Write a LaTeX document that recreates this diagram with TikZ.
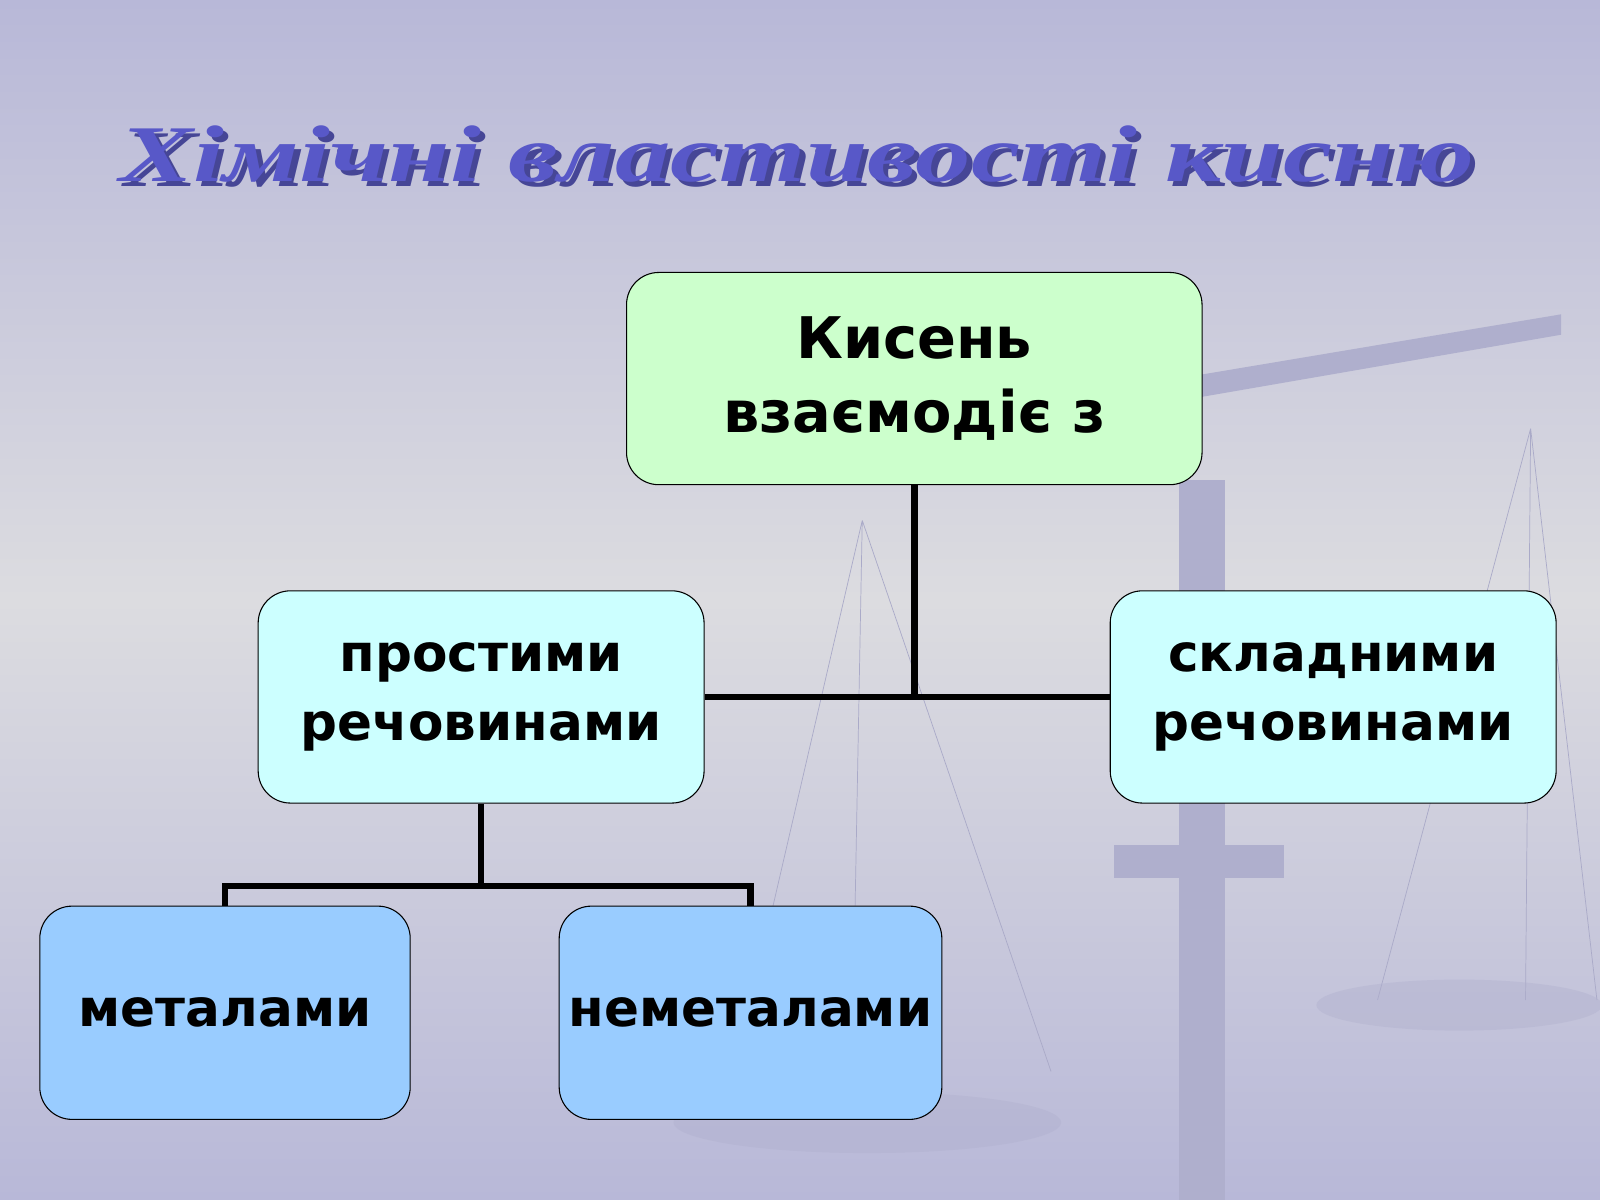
\documentclass[tikz,border=0pt]{standalone}
\usepackage{fontspec}
\setmainfont{DejaVu Sans}
\newfontfamily\titlefont{Liberation Serif}
\begin{document}
\begin{tikzpicture}[x=0.05cm,y=-0.05cm,
  box/.style={draw=black,line width=1.5pt,rounded corners=45pt,align=center,font=\fontsize{72}{96}\selectfont\bfseries,inner sep=0pt},
  conn/.style={line width=9pt}]
\useasboundingbox (0,0) rectangle (1568,1176);
\shade[top color={rgb,255:red,184;green,184;blue,216},bottom color={rgb,255:red,220;green,220;blue,224}] (0,0) rectangle (1568,588);
\shade[top color={rgb,255:red,220;green,220;blue,224},bottom color={rgb,255:red,184;green,184;blue,216}] (0,588) rectangle (1568,1176);
% faint scales
\begin{scope}[draw={rgb,255:red,170;green,170;blue,200},fill={rgb,255:red,175;green,175;blue,205}]
\fill (1155,470) rectangle (1200,1176);
\fill (1160,370) -- (1530,308) -- (1530,328) -- (1160,392) -- cycle;
\fill (1092,828) rectangle (1258,860);
\draw[line width=1pt] (1500,420) -- (1350,980) (1500,420) -- (1565,980) (1500,420)--(1495,980);
\draw[line width=1pt] (845,510) -- (720,1050) (845,510) -- (1030,1050) (845,510) -- (835,1050);
\fill[opacity=0.4] (850,1100) ellipse (190 and 30);
\fill[opacity=0.4] (1430,985) ellipse (140 and 25);
\end{scope}
\node[text={rgb,255:red,70;green,70;blue,150}] (shadow) at (786,156) {\scalebox{1.38}[1]{\titlefont\fontsize{112}{120}\selectfont\bfseries\itshape Хімічні властивості кисню}};
\node[text={rgb,255:red,88;green,88;blue,200}] (title) at (781,151) {\scalebox{1.38}[1]{\titlefont\fontsize{112}{120}\selectfont\bfseries\itshape Хімічні властивості кисню}};
\node[box,fill={rgb,255:red,204;green,255;blue,204},minimum width=564*0.05cm,minimum height=208*0.05cm,font=\fontsize{80}{104}\selectfont\bfseries] (top) at (896,371) {Кисень\\взаємодіє з};
\node[box,fill={rgb,255:red,204;green,255;blue,255},minimum width=437*0.05cm,minimum height=208*0.05cm] (simple) at (471.5,683) {простими\\речовинами};
\node[box,fill={rgb,255:red,204;green,255;blue,255},minimum width=437*0.05cm,minimum height=208*0.05cm] (complex) at (1306.5,683) {складними\\речовинами};
\node[box,fill={rgb,255:red,153;green,204;blue,255},minimum width=363*0.05cm,minimum height=209*0.05cm] (met) at (220.5,992.5) {металами};
\node[box,fill={rgb,255:red,153;green,204;blue,255},minimum width=375*0.05cm,minimum height=209*0.05cm] (nonmet) at (735.5,992.5) {неметалами};
\draw[conn] (top.south) -- (top.south |- simple.east);
\draw[conn] (simple.east) -- (complex.west);
\draw[conn] (simple.south) -- ++(0,81) coordinate (j);
\draw[conn] (met.north) -- (met.north |- j) -- (nonmet.north |- j) -- (nonmet.north);
\end{tikzpicture}
\end{document}
